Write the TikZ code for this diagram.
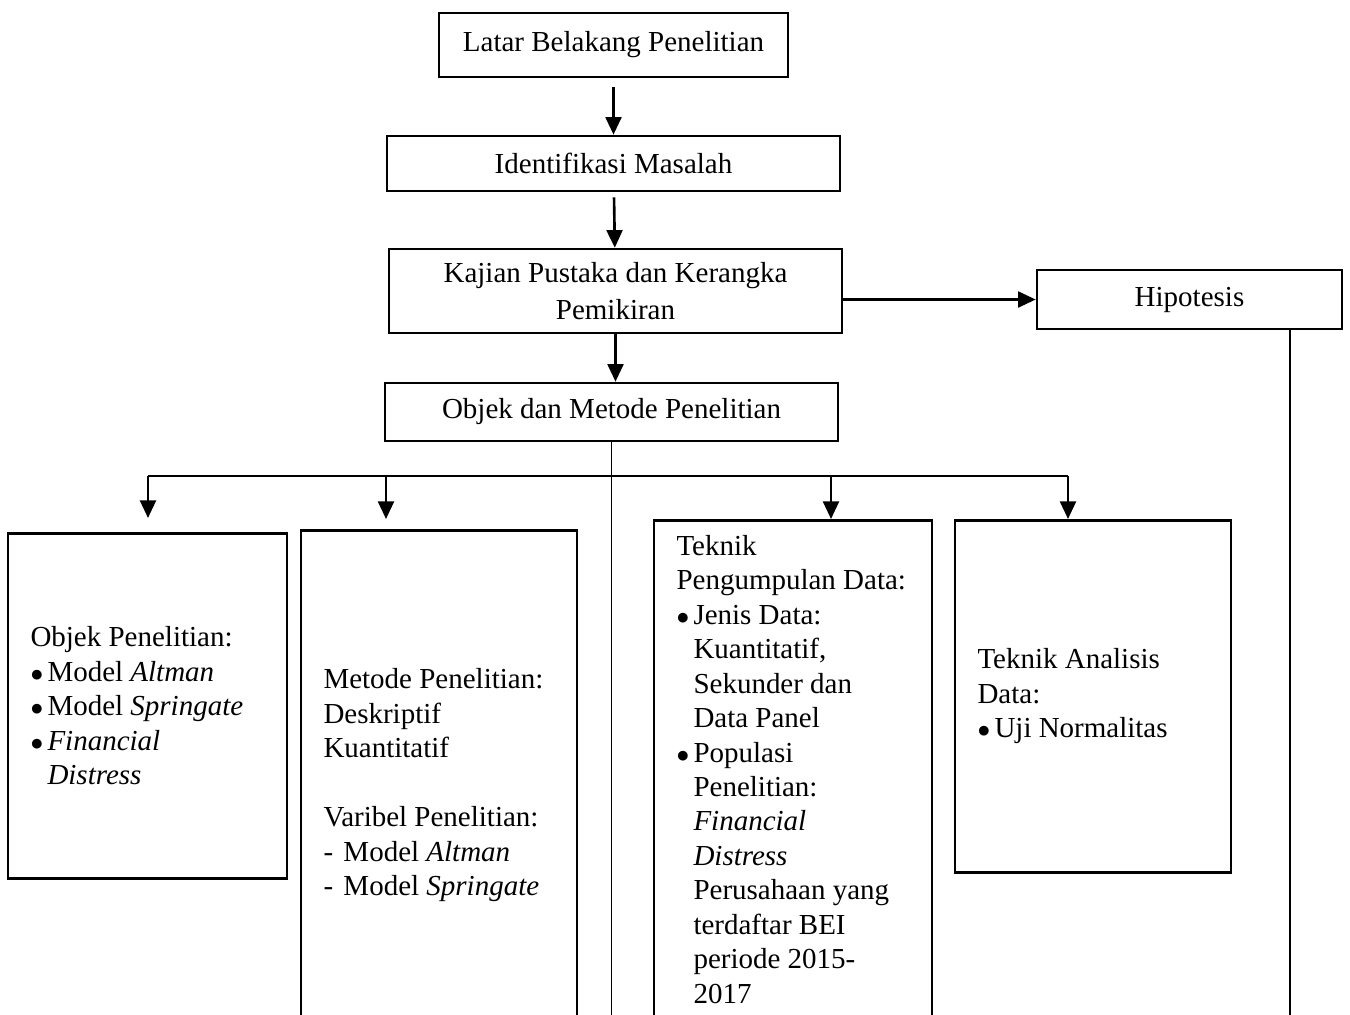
\documentclass[tikz,border=0pt]{standalone}
\usepackage{fontspec}
\setmainfont{Liberation Serif}
\usetikzlibrary{arrows.meta}
% list lines inside the column boxes
\newcommand{\bitem}[1]{\par\noindent\hangindent=0.34cm\hangafter=1\makebox[0.34cm][l]{\fontsize{14}{14}\selectfont$\bullet$}#1\par}
\newcommand{\ditem}[1]{\par\noindent\makebox[0.4cm][l]{-}#1\par}

\begin{document}
\begin{tikzpicture}[
    box/.style={draw, line width=1.5pt, align=center, inner sep=0pt, font=\fontsize{16.5}{21}\selectfont},
    col/.style={draw, line width=1.5pt, align=flush left, anchor=north, inner xsep=0.45cm, inner ysep=0.45cm, font=\fontsize{16.5}{19.6}\selectfont},
    arr/.style={-{Triangle[width=9pt,length=10pt]}, line width=1.5pt},
    thinline/.style={line width=0.7pt}]
          \useasboundingbox (0,0) rectangle (27,-20.28);
          \clip (0,0) rectangle (27,-20.28);
          % main flow
          \node[box, minimum width=6.98cm, minimum height=1.28cm] (latar) at (12.27,-0.9) {Latar Belakang Penelitian};
          \node[box, minimum width=9.06cm, minimum height=1.1cm] (ident) at (12.27,-3.27) {Identifikasi Masalah};
          \node[box, minimum width=9.06cm, minimum height=1.68cm] (kajian) at (12.31,-5.82) {Kajian Pustaka dan Kerangka\\ Pemikiran};
          \node[box, minimum width=6.1cm, minimum height=1.18cm] (hip) at (23.79,-5.99) {Hipotesis};
          \node[box, minimum width=9.06cm, minimum height=1.16cm] (objmet) at (12.23,-8.24) {Objek dan Metode Penelitian};
          \draw[arr, shorten <=0.18cm] (latar) -- (ident);
          \draw[arr, shorten <=0.1cm] (ident) -- (kajian);
          \draw[arr] (kajian.south) -- (kajian.south |- objmet.north);
          \draw[arr] (kajian.east |- hip.west) -- (hip.west);
          % columns
          \node[col, text width=4.68cm, minimum height=6.9cm] (objek) at (2.95,-10.64) {Objek Penelitian:
            \bitem{Model \textit{Altman}}
            \bitem{Model \textit{Springate}}
            \bitem{\textit{Financial}\newline \textit{Distress}}};
          \node[col, text width=4.62cm, minimum height=10.2cm] (metode) at (8.78,-10.58) {Metode Penelitian:\\ Deskriptif\\ Kuantitatif\\[\baselineskip] Varibel Penelitian:
            \ditem{Model \textit{Altman}}
            \ditem{Model \textit{Springate}}};
          \node[col, text width=4.66cm, inner ysep=0.3cm] (kumpul) at (15.86,-10.38) {Teknik\\ Pengumpulan Data:
            \bitem{Jenis Data:\newline Kuantitatif,\newline Sekunder dan\newline Data Panel}
            \bitem{Populasi\newline Penelitian:\newline \textit{Financial}\newline \textit{Distress}\newline Perusahaan yang\newline terdaftar BEI\newline periode 2015-\newline 2017}};
          \node[col, text width=4.62cm, minimum height=7.04cm] (analisis) at (21.86,-10.38) {Teknik Analisis\\ Data:
            \bitem{Uji Normalitas}};
          % fork to the columns
          \coordinate (f1) at (2.96,-9.52);
          \coordinate (f2) at (7.72,-9.52);
          \coordinate (f3) at (16.62,-9.52);
          \coordinate (f4) at (21.36,-9.52);
          \draw[thinline] (objmet.south) -- ++(0,-12);
          \draw[thinline] (f1) -- (f4);
          \draw[arr, shorten >=0.28cm] (f1) -- (f1 |- objek.north);
          \draw[arr, shorten >=0.2cm] (f2) -- (f2 |- metode.north);
          \draw[arr] (f3) -- (f3 |- kumpul.north);
          \draw[arr] (f4) -- (f4 |- analisis.north);
          \draw[thinline] (hip.south -| 25.8,0) -- ++(0,-15);
\end{tikzpicture}
\end{document}
